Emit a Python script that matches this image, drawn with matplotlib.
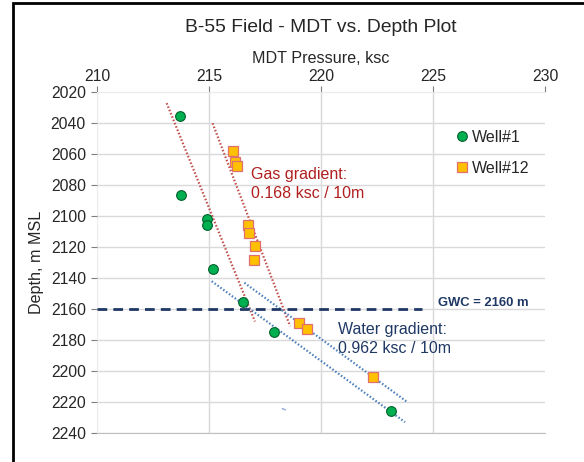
import matplotlib
matplotlib.use("Agg")
import matplotlib.pyplot as plt
from matplotlib.lines import Line2D
from matplotlib.patches import Rectangle

plt.rcParams['font.family'] = ['Liberation Sans', 'DejaVu Sans']

# MDT pressure (ksc) vs depth (m MSL)
well1_pressure = [213.71, 213.75, 214.90, 214.90, 215.16, 216.52, 217.92, 223.13]
well1_depth = [2035, 2086, 2102, 2106, 2134, 2155.5, 2174.5, 2225.5]

well12_pressure = [216.07, 216.16, 216.26, 216.73, 216.80, 217.05, 217.01, 219.00, 219.38, 222.31]
well12_depth = [2058, 2065, 2067.5, 2105.5, 2111, 2119, 2128, 2169, 2173, 2204]

# gradient lines (pressure, depth) end points
gas_line_1 = ([213.11, 217.05], [2027, 2168])
gas_line_2 = ([215.16, 218.62], [2040, 2171])
water_line_1 = ([215.12, 223.75], [2142, 2233])
water_line_2 = ([216.58, 223.85], [2143, 2220])
stray_stub = ([218.28, 218.40], [2224.3, 2225.0])

gwc_depth = 2160
gwc_pressure_range = [210, 224.5]

x_ticks = [210, 215, 220, 225, 230]
y_ticks = list(range(2020, 2241, 20))

W, H = 584, 462
fig = plt.figure(figsize=(W / 100, H / 100), dpi=100)
ax = fig.add_axes([97 / W, 1 - 433 / H, 448 / W, (433 - 92.3) / H])

grid_c = '#D9D9D9'
for y in y_ticks[1:]:
    ax.axhline(y, color=grid_c, lw=1.0, zorder=0)
for x in x_ticks[1:-1]:
    ax.axvline(x, color=grid_c, lw=1.0, zorder=0)
ax.axvline(210, color='#EBEBEB', lw=1.0, zorder=0)

red = '#C0504D'
blue = '#4F81BD'
for px, dz in (gas_line_1, gas_line_2):
    ax.plot(px, dz, color=red, lw=1.6, linestyle=(0, (0.7, 0.9)), zorder=2)
for px, dz in (water_line_1, water_line_2):
    ax.plot(px, dz, color=blue, lw=1.6, linestyle=(0, (0.7, 0.9)), zorder=2)
ax.plot(*stray_stub, color='#8EA9DB', lw=1.0, zorder=2)

navy = '#1F3864'
ax.plot(gwc_pressure_range, [gwc_depth, gwc_depth], color=navy, lw=2.0,
        linestyle=(0, (3.5, 2.2)), zorder=2)

ax.plot(well1_pressure, well1_depth, 'o', ms=7, mfc='#00B050', mec='#00602B',
        mew=0.8, zorder=4, label='Well#1')
ax.plot(well12_pressure, well12_depth, 's', ms=7.5, mfc='#FFC000', mec='#E07070',
        mew=0.9, zorder=4, label='Well#12')

ax.set_xlim(210, 230)
ax.set_ylim(2240, 2020)
ax.xaxis.tick_top()
ax.xaxis.set_label_position('top')
ax.set_xticks(x_ticks)
ax.set_yticks(y_ticks)
ax.tick_params(axis='both', labelsize=11.3, colors='#7F7F7F', labelcolor='#262626',
               length=4, width=0.8)
ax.tick_params(axis='x', length=4, pad=2)
ax.tick_params(axis='y', pad=4)
for s in ('left', 'right'):
    ax.spines[s].set_visible(False)
ax.spines['top'].set_color('#EBEBEB')
ax.spines['bottom'].set_color('#BFBFBF')
ax.set_xlabel('MDT Pressure, ksc', fontsize=11.6, color='#262626', labelpad=4)
ax.set_ylabel('Depth, m MSL', fontsize=11.6, color='#262626', labelpad=5)

fig.text(321 / W, 1 - 32 / H, 'B-55 Field - MDT vs. Depth Plot', fontsize=13.9,
         ha='center', va='baseline', color='#262626')

handles = [
    Line2D([], [], marker='o', ls='none', ms=7, mfc='#00B050', mec='#00602B', mew=0.8),
    Line2D([], [], marker='s', ls='none', ms=7.5, mfc='#FFC000', mec='#E07070', mew=0.9),
]
leg = ax.legend(handles, ['Well#1', 'Well#12'], loc='upper left',
                bbox_to_anchor=(456 / W, 1 - 130 / H), bbox_transform=fig.transFigure,
                frameon=False, fontsize=11.5, labelspacing=1.0, handlelength=0.7,
                handletextpad=0.3, borderpad=0, borderaxespad=0)
for t in leg.get_texts():
    t.set_color('#262626')

fig.text(251 / W, 1 - 184 / H, 'Gas gradient:\n0.168 ksc / 10m', fontsize=11.5,
         color='#B01E1E', ha='left', va='center', linespacing=1.35)
fig.text(338 / W, 1 - 339 / H, 'Water gradient:\n0.962 ksc / 10m', fontsize=11.5,
         color=navy, ha='left', va='center', linespacing=1.3)
fig.text(438 / W, 1 - 302.5 / H, 'GWC = 2160 m', fontsize=9.4, fontweight='bold',
         color=navy, ha='left', va='center')

fig.patches.append(Rectangle((13 / W, -0.05), 1.2, 1 - 2.5 / H + 0.05,
                             transform=fig.transFigure, fill=False,
                             edgecolor='black', lw=2.0, zorder=10))

fig.savefig('out.png', dpi=100)
